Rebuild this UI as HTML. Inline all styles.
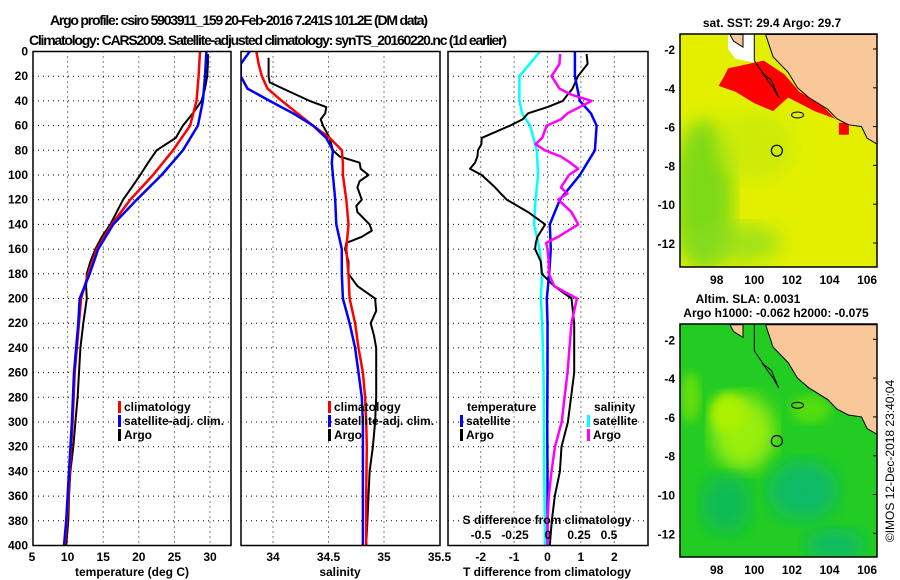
<!DOCTYPE html>
<html><head><meta charset="utf-8">
<style>
html,body{margin:0;padding:0;background:#fff;}
svg{display:block;font-family:"Liberation Sans",sans-serif;font-weight:bold;}
</style></head>
<body>
<svg id="fig" width="900" height="580" viewBox="0 0 900 580" xmlns="http://www.w3.org/2000/svg">
<defs>
 <filter id="blur6"><feGaussianBlur stdDeviation="9"/></filter>
 <filter id="blur3"><feGaussianBlur stdDeviation="5"/></filter>
 <clipPath id="clipTop"><rect x="680" y="34" width="197" height="233"/></clipPath>
 <clipPath id="clipBot"><rect x="680" y="324" width="197" height="233"/></clipPath>
 <clipPath id="clipP1"><rect x="33" y="51" width="198" height="495"/></clipPath>
 <clipPath id="clipP2"><rect x="241" y="51" width="199" height="495"/></clipPath>
 <clipPath id="clipP3"><rect x="448" y="51" width="200" height="495"/></clipPath>
</defs>
<text x="239" y="25" text-anchor="middle" font-size="14" textLength="378">Argo profile: csiro 5903911_159 20-Feb-2016 7.241S 101.2E (DM data)</text>
<text x="268" y="45" text-anchor="middle" font-size="14" textLength="478">Climatology: CARS2009. Satellite-adjusted climatology: synTS_20160220.nc (1d earlier)</text>
<g id="grid"></g>
<g id="series"></g>
<g id="axes"></g>
<g id="maps"></g>
<text transform="translate(894,461) rotate(-90)" text-anchor="middle" font-size="12" font-weight="normal">©IMOS 12-Dec-2018 23:40:04</text>
</svg>
<script>
// ---------- data ----------
const depthsT = [0,20,40,60,80,100,120,140,160,180,200,220,260,300,340,380,400];
const tempClim = [28.6,28.4,28.1,27.2,24.8,22.0,18.8,16.2,14.1,12.9,11.9,11.6,11.0,10.7,10.3,9.9,9.6];
const tempSat = [29.5,29.3,29.0,28.3,26.2,23.2,19.7,16.4,14.3,13.1,11.7,11.5,10.9,10.6,10.2,9.8,9.5];
const depthsTA = [2,10,20,30,40,50,60,70,80,90,100,110,120,130,140,150,160,170,180,190,200,220,240,260,280,300,320,340,360,380,400];
const tempArgo = [29.7,29.7,29.6,29.3,28.8,27.6,26.2,25.2,22.5,21.3,20.2,19.0,17.8,16.9,16.0,14.8,13.9,13.2,12.7,12.6,12.7,12.2,11.8,11.6,11.4,11.1,10.8,10.4,10.2,10.1,9.8];

const depthsS = [0,10,20,30,40,50,60,70,80,90,100,120,140,160,180,200,220,240,260,280,300,320,360,400];
const salClim = [33.85,33.87,33.90,33.95,34.08,34.22,34.36,34.51,34.62,34.63,34.63,34.66,34.68,34.66,34.68,34.69,34.74,34.77,34.81,34.83,34.84,34.845,34.84,34.84];
const salSat = [33.79,33.71,33.71,33.77,33.97,34.18,34.36,34.48,34.54,34.53,34.54,34.56,34.57,34.62,34.62,34.63,34.69,34.74,34.77,34.80,34.81,34.81,34.81,34.81];
const depthsSA = [5,20,25,30,40,45,50,55,60,70,80,85,90,95,100,105,110,120,125,130,140,145,150,155,160,170,180,190,200,210,220,230,240,260,280,300,320,340,360,380,400];
const salArgo = [33.96,33.96,33.97,34.09,34.33,34.48,34.47,34.43,34.45,34.51,34.54,34.60,34.78,34.79,34.86,34.78,34.76,34.80,34.75,34.76,34.87,34.89,34.80,34.66,34.65,34.68,34.68,34.76,34.92,34.93,34.88,34.91,34.93,34.93,34.93,34.92,34.90,34.87,34.86,34.85,34.84];

const depthsD = [0,20,40,50,60,80,100,120,140,160,180,200,220,260,300,340,380,400];
const tdiffSat = [0.82,0.82,0.97,1.3,1.47,1.42,0.97,0.37,0.07,0.1,0.05,-0.02,0.0,0.0,-0.01,0.0,0.0,0.0];
const sdiffSat = [-0.056,-0.21,-0.21,-0.19,-0.13,-0.08,-0.07,-0.09,-0.1,-0.06,-0.04,-0.05,-0.04,-0.03,-0.026,-0.025,-0.02,-0.02];
const depthsDA = [2,10,20,30,35,40,45,50,55,60,70,75,80,85,90,95,100,110,115,120,130,140,150,155,160,170,180,190,200,220,260,300,320,340,360,380,400];
const tdiffArgo = [1.17,1.2,0.91,0.75,0.6,0.46,0.0,-0.58,-0.75,-1.12,-1.97,-1.98,-2.08,-2.1,-2.17,-2.32,-1.97,-1.57,-1.4,-1.22,-0.58,-0.07,-0.3,-0.35,-0.37,-0.2,-0.17,0.2,0.72,0.8,0.8,0.61,0.42,0.37,0.22,0.13,0.07];
const sdiffArgo = [0.094,0.09,0.03,0.09,0.18,0.33,0.24,0.15,0.1,-0.006,-0.04,-0.09,-0.02,0.1,0.17,0.23,0.16,0.1,0.15,0.08,0.18,0.23,0.08,-0.01,0.0,0.01,0.01,0.05,0.22,0.18,0.15,0.106,0.056,0.03,0.01,0.0,0.0];

const tempTicks = [5,10,15,20,25,30];
const salTicks = [34,34.5,35,35.5];
const tdTicks = [-2,-1,0,1,2];
const sdTicks = [-0.5,-0.25,0,0.25,0.5];
const sdTickLabels = ["-0.5","-0.25","0","0.25","0.5"];
const depthTicks = [0,20,40,60,80,100,120,140,160,180,200,220,240,260,280,300,320,340,360,380,400];
const latTicks = [-2,-4,-6,-8,-10,-12];
const lonTicks = [98,100,102,104,106];
const argoLon = 101.2, argoLat = -7.241;

// ---------- scales ----------
const yD = d => 51.5 + d*1.235;
const xT = t => 32 + (t-5)*7.12;
const xS = s => 273 + (s-34)*111;
const xTD = v => 547.5 + v*33.4;
const xSD = v => 547.5 + v*133.6;
const lonX = lon => 716.7 + (lon-98)*18.8;
const latYt = lat => 49 + (-2-lat)*19.4;
const latYb = lat => 339.3 + (-2-lat)*19.4;

const NS="http://www.w3.org/2000/svg";
function mk(tag, attrs, parent, txt){const e=document.createElementNS(NS,tag);for(const k in attrs)e.setAttribute(k,attrs[k]);if(txt!==undefined)e.textContent=txt;parent.appendChild(e);return e;}
const grid=document.getElementById('grid'), series=document.getElementById('series'), axes=document.getElementById('axes'), maps=document.getElementById('maps');

const panels=[{x0:33,x1:231,ticks:tempTicks,f:xT,name:'temperature',lab:tempTicks.map(String)},
 {x0:241,x1:440,ticks:salTicks,f:xS,name:'salinity',lab:salTicks.map(String)},
 {x0:448,x1:648,ticks:tdTicks,f:xTD,name:'t-difference',lab:tdTicks.map(String)}];
panels.forEach(p=>{
  depthTicks.forEach(d=>{ if(d>0&&d<400){
    const l=mk('line',{x1:p.x0,x2:p.x1,y1:yD(d),y2:yD(d),stroke:'#000','stroke-width':1,'stroke-dasharray':'1 4'},grid);
    
    
  }});
  p.ticks.forEach((t,i)=>{
    const x=p.f(t);
    if(x>p.x0+2&&x<p.x1-2){
      const l=mk('line',{x1:x,x2:x,y1:yD(0),y2:yD(400),stroke:'#000','stroke-width':1,'stroke-dasharray':'1 4'},grid);
      
      
    }
    const tx=mk('text',{x:x,y:561,'text-anchor':'middle','font-size':12},axes,p.lab[i]);
    
    
  });
  const r=mk('rect',{x:p.x0,y:yD(0),width:p.x1-p.x0,height:yD(400)-yD(0),fill:'none',stroke:'#000','stroke-width':1.5},axes);
  
  
});
depthTicks.forEach(d=>{
  const t=mk('text',{x:28,y:yD(d)+4,'text-anchor':'end','font-size':12},axes,String(d));
  
  
});
[['temperature (deg C)',132,'temperature-axis-title'],['salinity',340,'salinity-axis-title'],['T difference from climatology',547,'t-difference-axis-title']].forEach(a=>{
  const t=mk('text',{x:a[1],y:576,'text-anchor':'middle','font-size':12},axes,a[0]);
  
  
});
const sdt=mk('text',{x:547,y:524,'text-anchor':'middle','font-size':12},axes,'S difference from climatology');


sdTicks.forEach((v,i)=>{
  const t=mk('text',{x:xSD(v)*0+[481,515,548,579,609][i],y:539,'text-anchor':'middle','font-size':12},axes,sdTickLabels[i]);
  
  
});

function line(depths, vals, fx, color, w, clip, name){
  const pts=depths.map((d,i)=>fx(vals[i]).toFixed(1)+','+yD(d).toFixed(1)).join(' ');
  const pl=mk('polyline',{points:pts,fill:'none',stroke:color,'stroke-width':w,'stroke-linejoin':'round','clip-path':'url(#'+clip+')'},series);
  
  
}
line(depthsTA,tempArgo,xT,'#000',2,'clipP1','temperature-argo-line');
line(depthsT,tempClim,xT,'#f00',2.5,'clipP1','temperature-climatology-line');
line(depthsT,tempSat,xT,'#00f',2.5,'clipP1','temperature-satellite-line');
line(depthsSA,salArgo,xS,'#000',2,'clipP2','salinity-argo-line');
line(depthsS,salClim,xS,'#f00',2.5,'clipP2','salinity-climatology-line');
line(depthsS,salSat,xS,'#00f',2.5,'clipP2','salinity-satellite-line');
line(depthsD,sdiffSat,xSD,'#0ff',2.5,'clipP3','s-diff-satellite-line');
line(depthsDA,tdiffArgo,xTD,'#000',2,'clipP3','t-diff-argo-line');
line(depthsD,tdiffSat,xTD,'#00f',2.5,'clipP3','t-diff-satellite-line');
line(depthsDA,sdiffArgo,xSD,'#f0f',2.5,'clipP3','s-diff-argo-line');

function legend(x,y,color,label,name){
  const m=mk('rect',{x:x,y:y-10,width:3,height:12,fill:color},axes);
  
  
  const t=mk('text',{x:x+6,y:y,'font-size':12},axes,label);
  
  
}
[[118,'climatology','#f00'],[118,'satellite-adj. clim.','#00f'],[118,'Argo','#000']].forEach((a,i)=>legend(a[0],411+i*14,a[2],a[1],'temperature-legend-entry'));
[[328,'climatology','#f00'],[328,'satellite-adj. clim.','#00f'],[328,'Argo','#000']].forEach((a,i)=>legend(a[0],411+i*14,a[2],a[1],'salinity-legend-entry'));
const lt=mk('text',{x:467,y:411,'font-size':12},axes,'temperature');


legend(460,425,'#00f','satellite','t-diff-legend-entry');
legend(460,439,'#000','Argo','t-diff-legend-entry');
const ls=mk('text',{x:594,y:411,'font-size':12},axes,'salinity');


legend(587,425,'#0ff','satellite','s-diff-legend-entry');
legend(587,439,'#f0f','Argo','s-diff-legend-entry');

// ---------- maps ----------
function P(arr, fy){return arr.map(p=>lonX(p[0]).toFixed(1)+','+fy(p[1]).toFixed(1)).join(' ');}
const coast=[[100.6,-1.25],[101.0,-2.4],[101.8,-3.2],[102.3,-4.0],[102.9,-4.5],[103.9,-5.1],[104.4,-5.6],[105.0,-5.9],[105.7,-6.0],[106.0,-6.6],[106.53,-6.9],[106.53,-1.25]];
const islandN=[[98.7,-1.25],[99.4,-1.25],[99.4,-1.9],[98.9,-1.6]];
function drawMap(top){
  const fy= top?latYt:latYb, y0= top?34:324, clip= top?'clipTop':'clipBot';
  const g=mk('g',{'clip-path':'url(#'+clip+')'},maps);
  
  
  if(top){
    mk('rect',{x:680,y:y0,width:197,height:233,fill:'#e2f000'},g);
    mk('ellipse',{cx:lonX(97.3),cy:fy(-9.5),rx:30,ry:75,fill:'#66d41a',filter:'url(#blur6)',opacity:0.8},g);
    mk('ellipse',{cx:lonX(98.8),cy:fy(-12),rx:50,ry:20,fill:'#88dd20',filter:'url(#blur6)',opacity:0.7},g);
    mk('ellipse',{cx:lonX(100),cy:fy(-7),rx:40,ry:35,fill:'#c0e810',filter:'url(#blur6)',opacity:0.6},g);
    mk('polygon',{points:P([[98.6,-1.25],[100,-1.25],[100,-2.7],[99,-2.5],[98.6,-2.0]],fy),fill:'#fff'},g);
    const red=mk('polygon',{points:P([[98.6,-3.0],[100.5,-2.6],[101.6,-3.3],[102.4,-4.2],[103.6,-4.9],[104.3,-5.6],[103.2,-5.2],[101.8,-4.5],[101.0,-5.2],[100,-4.8],[99.0,-4.2],[98.1,-3.9],[98.4,-3.4]],fy),fill:'#f00'},g);
    
    
    mk('rect',{x:lonX(104.5),y:fy(-5.8),width:10,height:12,fill:'#f00'},g);
    mk('rect',{x:lonX(105.1),y:y0,width:40,height:30,fill:'#3cc830'},g);
  } else {
    mk('rect',{x:680,y:y0,width:197,height:233,fill:'#22cc22'},g);
    mk('ellipse',{cx:lonX(99.4),cy:fy(-6.8),rx:32,ry:38,fill:'#99ee10',filter:'url(#blur6)'},g);
    mk('ellipse',{cx:lonX(98.6),cy:fy(-5.8),rx:18,ry:20,fill:'#aaf000',filter:'url(#blur3)'},g);
    mk('ellipse',{cx:lonX(103),cy:fy(-5.6),rx:20,ry:14,fill:'#55dd10',filter:'url(#blur3)'},g);
    mk('ellipse',{cx:lonX(96.6),cy:fy(-5),rx:10,ry:25,fill:'#66dd10',filter:'url(#blur3)'},g);
    mk('ellipse',{cx:lonX(102.6),cy:fy(-9.8),rx:35,ry:30,fill:'#11bb66',filter:'url(#blur6)'},g);
    mk('ellipse',{cx:lonX(98.5),cy:fy(-10.5),rx:25,ry:30,fill:'#11bb55',filter:'url(#blur6)'},g);
    mk('ellipse',{cx:lonX(104.3),cy:fy(-12.6),rx:30,ry:16,fill:'#11bb66',filter:'url(#blur6)'},g);
    mk('rect',{x:lonX(104.5),y:y0,width:45,height:40,fill:'#22cc22'},g);
  }
  const land=mk('polygon',{points:P(coast,fy),fill:'#f8c898',stroke:'#000','stroke-width':1},g);
  
  
  mk('polygon',{points:P(islandN,fy),fill:'#f8c898',stroke:'#000','stroke-width':1},g);
  mk('line',{x1:lonX(100),x2:lonX(100),y1:y0,y2:fy(-2.6),stroke:'#000','stroke-width':1},g);
  mk('polyline',{points:P([[100,-2.6],[100.5,-3.3],[100.9,-3.6],[101.3,-4.5],[101.0,-4.0],[100.4,-3.2]],fy),fill:'none',stroke:'#000','stroke-width':1},g);
  mk('ellipse',{cx:lonX(102.3),cy:fy(-5.4),rx:6,ry:3,fill:'none',stroke:'#000','stroke-width':1},g);
  const c=mk('circle',{cx:lonX(argoLon),cy:fy(argoLat),r:5.5,fill:'none',stroke:'#000','stroke-width':1.2},g);
  
  
  const fr=mk('rect',{x:680,y:y0,width:197,height:233,fill:'none',stroke:'#000','stroke-width':1.5},maps);
  
  
  latTicks.forEach(l=>{
    const t=mk('text',{x:675,y:fy(l)+5,'text-anchor':'end','font-size':12},maps,String(l));
    
    
    mk('line',{x1:873,x2:877,y1:fy(l),y2:fy(l),stroke:'#000'},maps);
  });
  lonTicks.forEach(l=>{
    const t=mk('text',{x:lonX(l),y:y0+250,'text-anchor':'middle','font-size':12},maps,String(l));
    
    
  });
}
drawMap(true);
drawMap(false);
[['sat. SST: 29.4 Argo: 29.7',772,27,'sst-map-title'],['Altim. SLA: 0.0031',748,303,'sla-map-title'],['Argo h1000: -0.062 h2000: -0.075',776,317,'argo-height-title']].forEach(a=>{
  const t=mk('text',{x:a[1],y:a[2],'text-anchor':'middle','font-size':12},maps,a[0]);
  
  
});
</script>
</body></html>
